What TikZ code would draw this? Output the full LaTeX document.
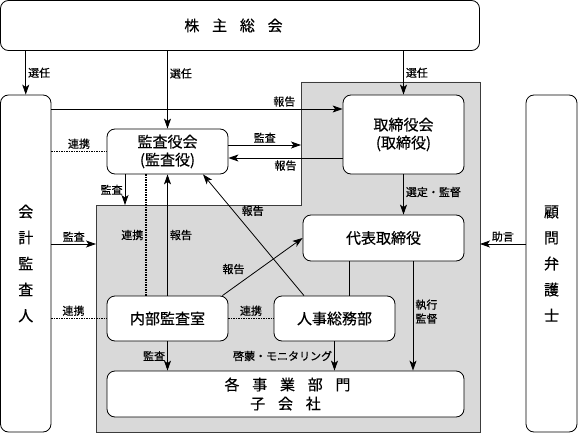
\documentclass[tikz,border=0pt]{standalone}
\usepackage{fontspec}
\setmainfont{Noto Sans CJK JP}[FakeBold=0.4]
\usetikzlibrary{positioning,arrows.meta}
\definecolor{bggray}{RGB}{217,217,217}
\definecolor{edgegray}{RGB}{60,60,60}

\begin{document}
\begin{tikzpicture}
[x=1pt,y=-1pt,
box/.style={draw,rounded corners=8pt,fill=white,line width=0.8pt,inner sep=0pt,
  align=center,font=\fontsize{15}{18}\selectfont},
lab/.style={font=\fontsize{11}{14}\selectfont,inner sep=2pt},
arr/.style={-{Stealth[length=10pt,width=7pt,inset=2.5pt]},line width=0.8pt},
link/.style={line width=1.4pt,dash pattern=on 1.4pt off 1.1pt}]
\useasboundingbox (0,0) rectangle (578,433);
% gray area
\coordinate (g1) at (301,82); \coordinate (g2) at (480,82);
\coordinate (g3) at (480,432); \coordinate (g4) at (96,432);
\coordinate (g5) at (96,205); \coordinate (g6) at (301,205);
\filldraw[fill=bggray,draw=edgegray,line width=0.8pt]
  (g1) -- (g2) -- (g3) -- (g4) -- (g5) -- (g6) -- cycle;
% boxes
\node[box,minimum width=479pt,minimum height=50pt](soukai) at (240,25.5)
  {株\hspace{0.85em}主\hspace{0.85em}総\hspace{0.85em}会\kern13pt};
\node[box,minimum width=50.5pt,minimum height=337pt,font=\fontsize{15}{26}\selectfont](kaikei) at (25.75,263.5)
  {会\\計\\監\\査\\人};
\node[box,minimum width=51pt,minimum height=337pt,font=\fontsize{15}{26}\selectfont](komon) at (551.5,263.5)
  {顧\\問\\弁\\護\\士};
\node[box,minimum width=121pt,minimum height=45pt](kansa) at (167.5,151.5) {監査役会\\(監査役)};
\node[box,minimum width=121pt,minimum height=79pt](torishimari) at (403.5,134.5) {取締役会\\(取締役)};
\node[box,minimum width=161pt,minimum height=46pt](daihyo) at (383.5,238) {代表取締役};
\node[box,minimum width=121pt,minimum height=45pt](naibu) at (167.5,318.5) {内部監査室};
\node[box,minimum width=121pt,minimum height=45pt](jinji) at (334.5,318.5) {人事総務部};
\node[box,minimum width=357pt,minimum height=46pt](jigyo) at (285.5,394)
  {各\hspace{0.85em}事\hspace{0.85em}業\hspace{0.85em}部\hspace{0.85em}門\kern-4pt\\[1pt]
   子\hspace{0.85em}会\hspace{0.85em}社};
% helper points
\coordinate (t1) at ([yshift=25.5pt]torishimari.west);
\coordinate (k1) at ([yshift=6.5pt]kansa.east);
\coordinate (k2) at ([yshift=-6.5pt]kansa.east);
\coordinate (k3) at ([xshift=-42.5pt]kansa.south);
\coordinate (k4) at ([xshift=-21.5pt]kansa.south);
\coordinate (k5) at ([xshift=35.5pt]kansa.south);
\coordinate (j1) at ([xshift=-30.5pt]jinji.north);
\coordinate (n1) at ([xshift=-6pt]naibu.north east);
\coordinate (d0) at ([yshift=-6pt]daihyo.west);
\coordinate (d1) at ([xshift=14.5pt]jinji.north);
\coordinate (d2) at ([xshift=29.5pt]daihyo.south);
% connectors
\draw[arr] (kaikei.north |- soukai.south) -- node[lab,right]{選任} (kaikei.north);
\draw[arr] (kansa.north |- soukai.south) -- node[lab,right,pos=0.29]{選任} (kansa.north);
\draw[arr] (torishimari.north |- soukai.south) -- node[lab,right]{選任} (torishimari.north);
\draw[arr] (kaikei.east |- t1) -- node[lab,above,pos=0.8]{報告} (t1);
\draw[arr] (k1) -- node[lab,above]{監査} (k1 -| g6);
\draw[arr] (torishimari.west |- k2) -- node[lab,below]{報告} (k2);
\draw[link] (kaikei.east |- kansa.west) -- node[lab,above]{連携} (kansa.west);
\draw[arr] (k3) -- node[lab,left]{監査} (k3 |- g6);
\draw[link] (k4) -- node[lab,left]{連携} (k4 |- naibu.north);
\draw[arr] (naibu.north) -- node[lab,right]{報告} (kansa.south);
\draw[arr] (j1) -- node[lab,pos=0.7,anchor=west,xshift=6pt]{報告} (k5);
\draw[arr] (n1) -- node[lab,pos=0.33,above left,xshift=-2pt]{報告} (daihyo.west);
\draw[arr] (torishimari.south) -- node[lab,right,pos=0.44]{選定・監督} (torishimari.south |- daihyo.north);
\draw[arr] (kaikei.east |- d0) -- node[lab,above]{監査} (g5 |- d0);
\draw[arr] (komon.west |- d0) -- node[lab,above]{助言} (g2 |- d0);
\draw[link] (kaikei.east |- naibu.west) -- node[lab,above,pos=0.4]{連携} (naibu.west);
\draw[link] (naibu.east) -- node[lab,above]{連携} (jinji.west);
\draw[line width=0.8pt] (d1 |- daihyo.south) -- (d1);
\draw[arr] (d2) -- node[lab,right,pos=0.46,align=left]{執行\\監督} (d2 |- jigyo.north);
\draw[arr] (naibu.south) -- node[lab,left]{監査} (naibu.south |- jigyo.north);
\draw[arr] (jinji.south) -- node[lab,left]{啓蒙・モニタリング} (jinji.south |- jigyo.north);
\end{tikzpicture}
\end{document}
